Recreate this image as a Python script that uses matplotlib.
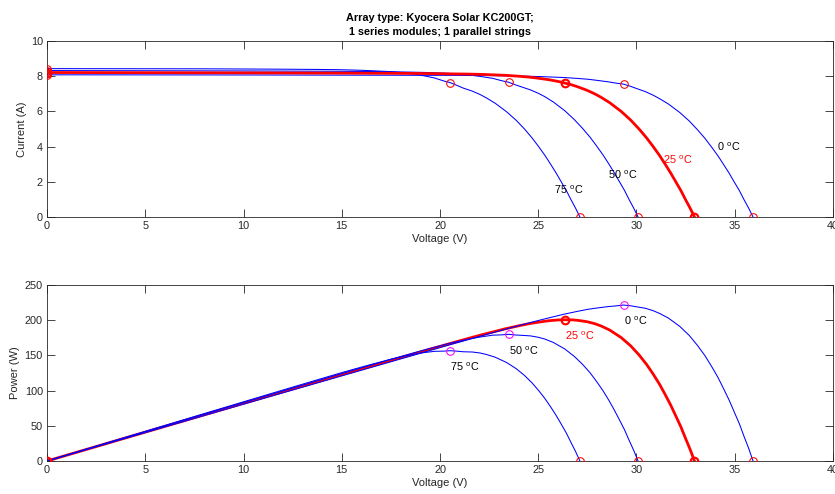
import matplotlib.pyplot as plt
import numpy as np

plt.rcParams['font.family'] = ['Liberation Sans', 'DejaVu Sans']
plt.rcParams['mathtext.fontset'] = 'custom'
plt.rcParams['mathtext.rm'] = 'Liberation Sans'

# temperatures and I-V curves
temps = [0, 25, 50, 75]

v_0 = [0, 5, 10, 15, 20.48, 22.48, 23.68, 24.42, 25.18, 26.31, 26.98, 27.5, 27.88,
       28.53, 29.0, 29.34, 29.71, 29.98, 30.46, 30.85, 31.18, 31.61, 32.2, 32.69,
       33.11, 33.49, 33.83, 34.15, 34.44, 34.72, 34.98, 35.24, 35.47, 35.71, 35.93]
i_0 = [8.08, 8.075, 8.07, 8.06, 8.05, 8.035, 8.015, 8.0, 7.975, 7.925, 7.875, 7.83,
       7.78, 7.685, 7.6, 7.55, 7.42, 7.31, 7.12, 6.92, 6.72, 6.43, 5.94, 5.45, 4.95,
       4.46, 3.96, 3.47, 2.97, 2.48, 1.98, 1.49, 0.99, 0.5, 0]

v_25 = [0, 5, 10, 15, 17.5, 19.5, 20.7, 21.44, 22.2, 23.33, 24.0, 24.52, 24.9, 25.55,
        26.02, 26.36, 26.73, 27.0, 27.48, 27.87, 28.2, 28.63, 29.22, 29.71, 30.13,
        30.51, 30.85, 31.17, 31.46, 31.74, 32.0, 32.26, 32.49, 32.73, 32.95]
i_25 = [8.21, 8.20, 8.19, 8.175, 8.165, 8.15, 8.13, 8.12, 8.10, 8.05, 8.00, 7.95, 7.90,
        7.80, 7.70, 7.61, 7.50, 7.40, 7.20, 7.00, 6.80, 6.50, 6.00, 5.50, 5.00, 4.50,
        4.00, 3.50, 3.00, 2.50, 2.00, 1.50, 1.00, 0.50, 0]

v_50 = [0, 5, 10, 14.63, 16.63, 17.83, 18.57, 19.33, 20.46, 21.13, 21.65, 22.03, 22.68,
        23.15, 23.49, 23.86, 24.13, 24.61, 25.0, 25.33, 25.76, 26.35, 26.84, 27.26,
        27.64, 27.98, 28.3, 28.59, 28.87, 29.13, 29.39, 29.62, 29.86, 30.08]
i_50 = [8.32, 8.31, 8.30, 8.28, 8.265, 8.245, 8.23, 8.21, 8.16, 8.10, 8.045, 7.99, 7.88,
        7.74, 7.66, 7.50, 7.40, 7.22, 7.03, 6.84, 6.54, 6.04, 5.53, 5.03, 4.53, 4.02,
        3.52, 3.02, 2.51, 2.01, 1.51, 1.0, 0.5, 0]

v_75 = [0, 4, 8, 11.67, 13.67, 14.87, 15.61, 16.37, 17.5, 18.17, 18.69, 19.07, 19.72,
        20.19, 20.53, 20.9, 21.17, 21.65, 22.04, 22.37, 22.8, 23.39, 23.88, 24.3, 24.68,
        25.02, 25.34, 25.63, 25.91, 26.17, 26.43, 26.66, 26.9, 27.12]
i_75 = [8.43, 8.425, 8.42, 8.40, 8.385, 8.37, 8.35, 8.32, 8.26, 8.19, 8.12, 8.05, 7.90,
        7.73, 7.63, 7.46, 7.33, 7.15, 6.96, 6.76, 6.47, 5.98, 5.49, 5.0, 4.5, 4.0, 3.5,
        3.0, 2.5, 2.0, 1.5, 1.0, 0.5, 0]

curves = [(np.array(v_0), np.array(i_0)), (np.array(v_25), np.array(i_25)),
          (np.array(v_50), np.array(i_50)), (np.array(v_75), np.array(i_75))]

# label anchors (x, y) in the I-V plot, offset below the MPP in the P-V plot
iv_label_pos = [(34.1, 3.98), (31.35, 3.24), (28.55, 2.39), (25.8, 1.53)]
pv_label_offset = -23

ink = '#262626'
fig = plt.figure(figsize=(8.35, 4.94), dpi=100)
ax1 = fig.add_axes([0.0563, 0.5607, 0.9413, 0.3563])
ax2 = fig.add_axes([0.0563, 0.0668, 0.9413, 0.3563])

def style(ax):
    ax.set_xlim(0, 40)
    ax.set_xticks(np.arange(0, 41, 5))
    ax.tick_params(direction='in', top=True, right=True, length=5.5, width=0.6,
                   labelsize=7.8, colors=ink, pad=3)
    for s in ax.spines.values():
        s.set_color(ink)
        s.set_linewidth(0.6)
    ax.set_xlabel('Voltage (V)', fontsize=8, color=ink, labelpad=2)

def deg(t):
    return f'{t}$\\ ^{{\\mathrm{{o}}}}$C'

# 1) I-V curves
for k in [0, 2, 3, 1]:
    v, i = curves[k]
    m = np.argmax(v * i)
    if temps[k] == 25:
        ax1.plot(v, i, color='red', lw=2, zorder=3)
        ax1.plot(v[[0, m, -1]], i[[0, m, -1]], 'o', mfc='none', mec='red', ms=5.5, mew=1.5, zorder=4)
    else:
        ax1.plot(v, i, color='blue', lw=0.75, zorder=2)
        ax1.plot(v[[0, m, -1]], i[[0, m, -1]], 'o', mfc='none', mec='red', ms=5.5, mew=0.75, zorder=4)
    x, y = iv_label_pos[k]
    ax1.text(x, y, deg(temps[k]), fontsize=7.8, va='center', ha='left',
             color='red' if temps[k] == 25 else 'black')
ax1.set_ylim(0, 10)
ax1.set_yticks(np.arange(0, 11, 2))
style(ax1)
ax1.set_ylabel('Current (A)', fontsize=8, color=ink, labelpad=3)
ax1.set_title('Array type: Kyocera Solar KC200GT;\n1 series modules; 1 parallel strings',
              fontsize=7.8, fontweight='bold', color='black', pad=4, linespacing=1.6)

# 2) P-V curves
for k in [1, 0, 2, 3]:
    v, i = curves[k]
    p = v * i
    m = np.argmax(p)
    if temps[k] == 25:
        ax2.plot(v, p, color='red', lw=2, zorder=2)
        ax2.plot(v[[0, m, -1]], p[[0, m, -1]], 'o', mfc='none', mec='red', ms=5.5, mew=1.5, zorder=4)
    else:
        ax2.plot(v, p, color='blue', lw=0.75, zorder=3)
        ax2.plot(v[[0, -1]], p[[0, -1]], 'o', mfc='none', mec='red', ms=5.5, mew=0.75, zorder=4)
        ax2.plot(v[m], p[m], 'o', mfc='none', mec='magenta', ms=5.5, mew=0.75, zorder=4)
    ax2.text(v[m], p[m] + pv_label_offset, deg(temps[k]), fontsize=7.8, va='center',
             ha='left', color='red' if temps[k] == 25 else 'black')
ax2.set_ylim(0, 250)
ax2.set_yticks(np.arange(0, 251, 50))
style(ax2)
ax2.set_ylabel('Power (W)', fontsize=8, color=ink, labelpad=3)

fig.savefig('out.png', dpi=100)
